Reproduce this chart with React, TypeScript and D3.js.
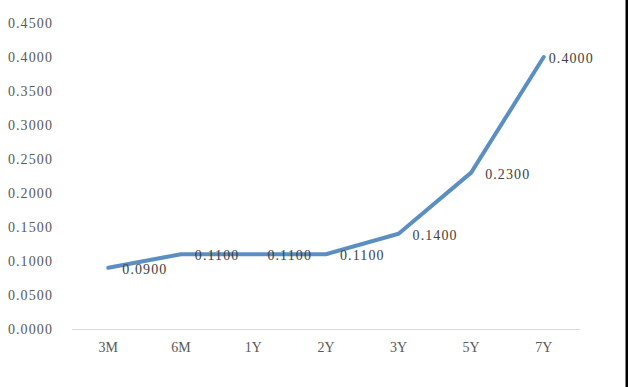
import { useEffect, useRef } from "react";
import * as d3 from "d3";

const categories = ["3M", "6M", "1Y", "2Y", "3Y", "5Y", "7Y"];
const values = [0.09, 0.11, 0.11, 0.11, 0.14, 0.23, 0.4];
const yTicks = [0, 0.05, 0.1, 0.15, 0.2, 0.25, 0.3, 0.35, 0.4, 0.45];

export default function App() {
  const svgRef = useRef<SVGSVGElement>(null);

  useEffect(() => {
    if (!svgRef.current) return;
    const width = 628;
    const height = 387;
    const margin = { top: 23, right: 48, bottom: 58, left: 72 };
    const innerWidth = width - margin.left - margin.right;
    const innerHeight = height - margin.top - margin.bottom;
    const font = "'Liberation Serif', serif";
    const textColor = "#595959";

    d3.select(svgRef.current).selectAll("*").remove();

    const svg = d3
      .select(svgRef.current)
      .attr("width", width)
      .attr("height", height);

    svg.append("rect").attr("width", width).attr("height", height).attr("fill", "#fff");

    // black edge on the right of the screenshot
    svg
      .append("rect")
      .attr("x", width - 2.5)
      .attr("y", 0)
      .attr("width", 2.5)
      .attr("height", height)
      .attr("fill", "#000");

    const g = svg
      .append("g")
      .attr("transform", `translate(${margin.left},${margin.top})`);

    const x = d3.scaleBand().domain(categories).range([0, innerWidth]);
    const y = d3.scaleLinear().domain([0, 0.45]).range([innerHeight, 0]);

    // y tick labels (no axis line)
    g.append("g")
      .selectAll("text")
      .data(yTicks)
      .join("text")
      .attr("x", -19)
      .attr("y", (d) => y(d))
      .attr("dy", "0.35em")
      .attr("text-anchor", "end")
      .attr("font-family", font)
      .attr("font-size", 14)
      .attr("letter-spacing", 1.1)
      .attr("fill", textColor)
      .text((d) => d3.format(".4f")(d));

    // x axis line
    g.append("line")
      .attr("x1", 0)
      .attr("x2", innerWidth)
      .attr("y1", innerHeight + 0.5)
      .attr("y2", innerHeight + 0.5)
      .attr("stroke", "#d9d9d9")
      .attr("stroke-width", 1);

    g.append("g")
      .selectAll("text")
      .data(categories)
      .join("text")
      .attr("x", (d) => (x(d) as number) + x.bandwidth() / 2)
      .attr("y", innerHeight + 18)
      .attr("dy", "0.35em")
      .attr("text-anchor", "middle")
      .attr("font-family", font)
      .attr("font-size", 14)
      .attr("fill", textColor)
      .text((d) => d);

    const line = d3
      .line<number>()
      .x((_, i) => (x(categories[i]) as number) + x.bandwidth() / 2)
      .y((d) => y(d));

    g.append("path")
      .datum(values)
      .attr("d", line)
      .attr("fill", "none")
      .attr("stroke", "#5b8fc2")
      .attr("stroke-width", 4)
      .attr("stroke-linejoin", "round")
      .attr("stroke-linecap", "round");

    // data labels
    g.append("g")
      .selectAll("text")
      .data(values)
      .join("text")
      .attr(
        "x",
        (_, i) =>
          (x(categories[i]) as number) +
          x.bandwidth() / 2 +
          (i === values.length - 1 ? 5 : 14)
      )
      .attr("y", (d) => y(d) + 1)
      .attr("dy", "0.35em")
      .attr("font-family", font)
      .attr("font-size", 14)
      .attr("letter-spacing", 1.1)
      .attr("fill", "#404040")
      .text((d) => d3.format(".4f")(d));
  }, []);

  return (
    <svg
      ref={svgRef}
      style={{ position: "absolute", left: 0, top: 0, display: "block" }}
    />
  );
}
